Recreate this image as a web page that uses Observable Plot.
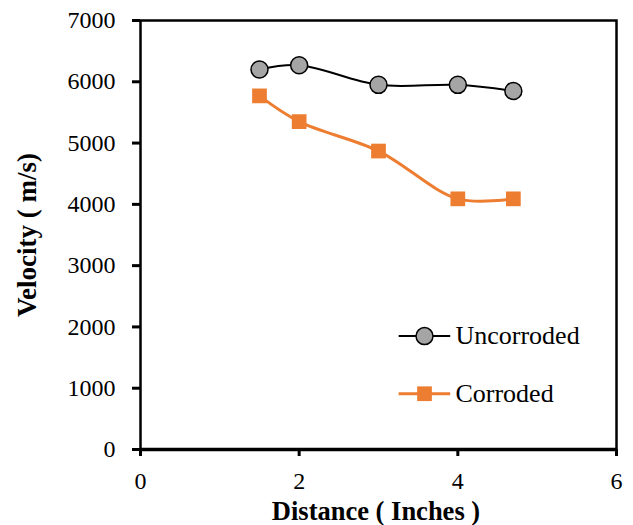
<!DOCTYPE html>
<html><head><meta charset="utf-8">
<script src="https://cdn.jsdelivr.net/npm/d3@7"></script>
<script src="https://cdn.jsdelivr.net/npm/@observablehq/plot@0.6"></script>
<style>
body{margin:0;background:#fff;}
#chart svg, #chart svg text{font-family:"Times New Roman","Liberation Serif",serif !important;}
</style>
</head><body><div id="chart"></div>
<script>
const distance = [1.5, 2, 3, 4, 4.7];
const uncorroded = [6200, 6270, 5950, 5950, 5850];
const corroded = [5770, 5350, 4870, 4090, 4090];
const xTicks = [0, 2, 4, 6];
const yTicks = [0, 1000, 2000, 3000, 4000, 5000, 6000, 7000];
const seriesNames = ["Uncorroded", "Corroded"];

const unc = distance.map((d, i) => ({x: d, y: uncorroded[i]}));
const cor = distance.map((d, i) => ({x: d, y: corroded[i]}));
const legendY = [1850, 910];
const legX0 = 3.26, legX1 = 3.91, legXm = 3.58, legXt = 3.97;

const plot = Plot.plot({
  width: 633, height: 525,
  marginLeft: 140, marginRight: 17, marginTop: 20, marginBottom: 76,
  style: {fontSize: "24px", color: "#000", background: "#fff"},
  x: {domain: [0, 6], label: null},
  y: {domain: [0, 7000], label: null},
  marks: [
    Plot.frame({stroke: "#000", strokeWidth: 2.5}),
    Plot.axisX({ticks: xTicks, tickFormat: d3.format("d"), tickSize: 7, tickPadding: 15, strokeWidth: 3, fontSize: 24, strokeOpacity: 1}),
    Plot.axisY({ticks: yTicks, tickFormat: d3.format("d"), tickSize: 8, tickPadding: 17, strokeWidth: 3, fontSize: 24, strokeOpacity: 1}),
    Plot.ruleY([0], {stroke: "#000", strokeWidth: 3.5}),
    Plot.line(cor, {x: "x", y: "y", stroke: "#ed7d31", strokeWidth: 3, curve: "catmull-rom"}),
    Plot.dot(cor, {x: "x", y: "y", symbol: "square", r: 8.3, fill: "#ed7d31", stroke: "none"}),
    Plot.line(unc, {x: "x", y: "y", stroke: "#000", strokeWidth: 2, curve: "catmull-rom"}),
    Plot.dot(unc, {x: "x", y: "y", r: 8.5, fill: "#a5a5a5", stroke: "#000", strokeWidth: 1.5}),
    // legend
    Plot.ruleY([legendY[0]], {x1: legX0, x2: legX1, stroke: "#000", strokeWidth: 2}),
    Plot.dot([{x: legXm, y: legendY[0]}], {x: "x", y: "y", r: 8.5, fill: "#a5a5a5", stroke: "#000", strokeWidth: 1.5}),
    Plot.text([seriesNames[0]], {x: legXt, y: legendY[0], textAnchor: "start", fontSize: 26}),
    Plot.ruleY([legendY[1]], {x1: legX0, x2: legX1, stroke: "#ed7d31", strokeWidth: 3}),
    Plot.dot([{x: legXm, y: legendY[1]}], {x: "x", y: "y", symbol: "square", r: 8.3, fill: "#ed7d31"}),
    Plot.text([seriesNames[1]], {x: legXt, y: legendY[1], textAnchor: "start", fontSize: 26})
  ]
});
const svg = d3.select(plot);
svg.append("text").attr("x", 376).attr("y", 520)
  .attr("text-anchor", "middle").attr("font-weight", "bold").attr("font-size", 26.5)
  .text("Distance ( Inches )");
svg.append("text").attr("transform", `translate(36,235) rotate(-90)`)
  .attr("text-anchor", "middle").attr("font-weight", "bold").attr("font-size", 27)
  .text("Velocity ( m/s)");
document.getElementById("chart").appendChild(plot);
</script>
</body></html>
